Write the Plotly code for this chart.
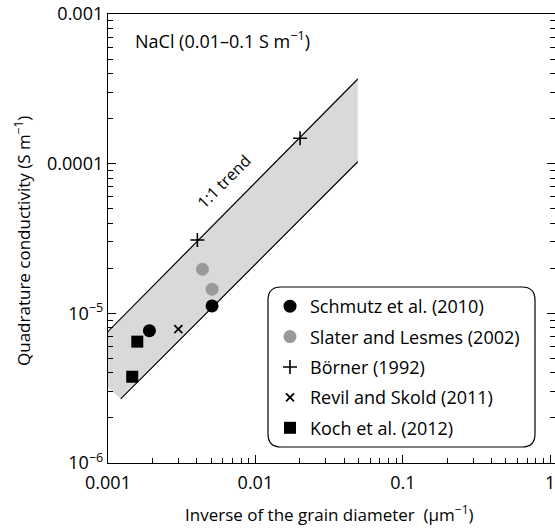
import plotly.graph_objects as go
import math

# ---- data ----
schmutz_x = [0.00191, 0.00508]
schmutz_y = [7.66e-6, 1.12e-5]
slater_x = [0.00437, 0.00508]
slater_y = [1.97e-5, 1.45e-5]
borner_x = [0.00404, 0.0201]
borner_y = [3.09e-5, 1.48e-4]
revil_x = [0.0030]
revil_y = [7.84e-6]
koch_x = [0.00158, 0.00146]
koch_y = [6.47e-6, 3.77e-6]

# 1:1 trend band edges (endpoints)
upper_x = [6.4e-4, 0.0495]
upper_y = [4.85e-6, 3.68e-4]
lower_x = [0.00122, 0.0495]
lower_y = [2.68e-6, 1.03e-4]

x_tickvals = [0.001, 0.01, 0.1, 1]
x_ticktext = ["0.001", "0.01", "0.1", "1"]
y_tickvals = [1e-6, 1e-5, 1e-4, 1e-3]
y_ticktext = ["10<sup>\u22126</sup>", "10<sup>\u22125</sup>", "0.0001", "0.001"]

FONT = "Open Sans"
W, H = 555, 530
L, T, R, B = 108, 14, 0, 67
PW, PH = W - L - R, H - T - B

def px2paper(px, py):
    return (px - L) / PW, (T + PH - py) / PH

fig = go.Figure()

# band fill
fig.add_trace(go.Scatter(
    x=upper_x + lower_x[::-1], y=upper_y + lower_y[::-1],
    fill="toself", fillcolor="#d9d9d9", mode="none",
    showlegend=False, hoverinfo="skip"))
fig.add_trace(go.Scatter(x=upper_x, y=upper_y, mode="lines",
                         line=dict(color="black", width=1.2),
                         showlegend=False, hoverinfo="skip"))
fig.add_trace(go.Scatter(x=lower_x, y=lower_y, mode="lines",
                         line=dict(color="black", width=1.2),
                         showlegend=False, hoverinfo="skip"))

series = [
    ("Schmutz et al. (2010)", schmutz_x, schmutz_y, dict(symbol="circle", size=13, color="black")),
    ("Slater and Lesmes (2002)", slater_x, slater_y, dict(symbol="circle", size=13, color="#999999")),
    ("B\u00f6rner (1992)", borner_x, borner_y, dict(symbol="cross-thin", size=10, color="black",
                                                   line=dict(color="black", width=1.6))),
    ("Revil and Skold (2011)", revil_x, revil_y, dict(symbol="x-thin", size=8, color="black",
                                                     line=dict(color="black", width=1.8))),
    ("Koch et al. (2012)", koch_x, koch_y, dict(symbol="square", size=12, color="black")),
]
for i, (name, xs, ys, mk) in enumerate(series):
    fig.add_trace(go.Scatter(x=xs, y=ys, mode="markers", name=name, marker=mk,
                             legendgroup=f"g{i}", cliponaxis=False))

# rounded legend box
x0, y0 = px2paper(268, 447)
x1, y1 = px2paper(535, 287)
rx, ry = 13 / PW, 13 / PH
path = (f"M {x0+rx},{y1} L {x1-rx},{y1} Q {x1},{y1} {x1},{y1-ry} "
        f"L {x1},{y0+ry} Q {x1},{y0} {x1-rx},{y0} L {x0+rx},{y0} "
        f"Q {x0},{y0} {x0},{y0+ry} L {x0},{y1-ry} Q {x0},{y1} {x0+rx},{y1} Z")
fig.add_shape(type="path", path=path, xref="paper", yref="paper",
              line=dict(color="black", width=1.2), fillcolor="white", layer="below")

lx, ly = px2paper(270, 288)

axis_common = dict(
    type="log", showgrid=False, zeroline=False,
    showline=True, linecolor="black", linewidth=1.3,
    ticks="inside", ticklen=8, tickwidth=1.2, tickcolor="black",
    tickfont=dict(family=FONT, size=18, color="black"),
    ticklabeloverflow="allow",
)

minor_x = [m * 10 ** e for e in (-3, -2, -1) for m in range(2, 10)]
minor_y = [m * 10 ** e for e in (-6, -5, -4) for m in range(2, 10)]

fig.update_xaxes(**axis_common, range=[-3, -3 + PW / 147.4], mirror=True,
                 tickvals=x_tickvals, ticktext=x_ticktext, ticklabelstandoff=3,
                 minor=dict(tickvals=minor_x, ticks="inside", ticklen=5,
                            tickwidth=1, tickcolor="black"))
fig.update_yaxes(**axis_common, range=[-6, -3], mirror="ticks",
                 tickvals=y_tickvals, ticktext=y_ticktext,
                 minor=dict(tickvals=minor_y, ticks="inside", ticklen=5,
                            tickwidth=1, tickcolor="black"))

ax, ay = px2paper(329, 513)
tx, ty = px2paper(22, 241)
nx, ny = px2paper(133, 40)
annotations = [
    dict(text="Inverse of the grain diameter &nbsp;(\u03bcm<sup>\u22121</sup>)", x=ax, y=ay,
         xref="paper", yref="paper", showarrow=False, xanchor="center", yanchor="middle",
         font=dict(family=FONT, size=17, color="black")),
    dict(text="Quadrature conductivity (S m<sup>\u22121</sup>)", x=tx, y=ty, textangle=-90,
         xref="paper", yref="paper", showarrow=False, xanchor="center", yanchor="middle",
         font=dict(family=FONT, size=17, color="black")),
    dict(text="NaCl (0.01\u20130.1 S m<sup>\u22121</sup>)", x=nx, y=ny,
         xref="paper", yref="paper", showarrow=False, xanchor="left", yanchor="middle",
         font=dict(family=FONT, size=18, color="black")),
    dict(text="1:1 trend", x=math.log10(0.00604), y=math.log10(7.59e-5), textangle=-45,
         xref="x", yref="y", showarrow=False, xanchor="center", yanchor="middle",
         font=dict(family=FONT, size=16, color="black")),
]

fig.update_layout(
    width=W, height=H, margin=dict(l=L, r=R, t=T, b=B, autoexpand=False),
    paper_bgcolor="white", plot_bgcolor="white",
    font=dict(family=FONT, size=18, color="black"),
    annotations=annotations,
    legend=dict(x=lx, y=ly, xanchor="left", yanchor="top",
                bgcolor="rgba(0,0,0,0)", borderwidth=0, tracegroupgap=4,
                font=dict(family=FONT, size=18, color="black")),
    showlegend=True,
)

fig.write_html("out.html")
